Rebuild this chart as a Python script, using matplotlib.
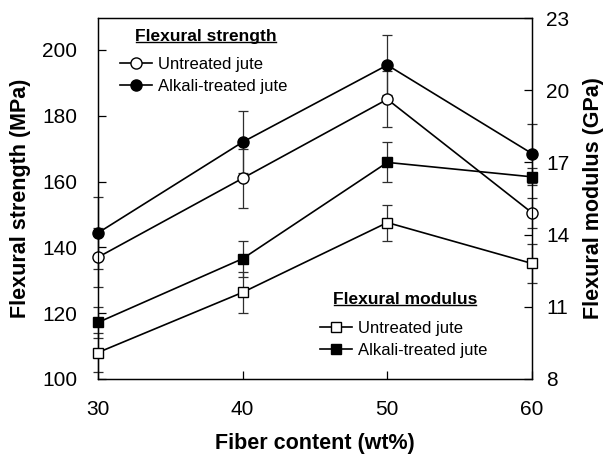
import matplotlib
matplotlib.use('Agg')
import matplotlib.pyplot as plt
from matplotlib.lines import Line2D

plt.rcParams['font.family'] = ['Liberation Sans', 'DejaVu Sans']

# ---- data ----
fiber = [30, 40, 50, 60]
strength_untreated = [137.0, 161.0, 185.0, 150.5]
strength_untreated_err = [9.0, 9.0, 8.5, 4.5]
strength_alkali = [144.4, 172.0, 195.4, 168.5]
strength_alkali_err = [11.0, 9.5, 9.0, 9.0]
modulus_untreated = [9.1, 11.6, 14.5, 12.8]
modulus_untreated_err = [0.8, 0.85, 0.75, 0.8]
modulus_alkali = [10.35, 13.0, 17.0, 16.4]
modulus_alkali_err = [0.65, 0.75, 0.83, 0.35]

x_ticks = [30, 40, 50, 60]
left_ticks = [100, 120, 140, 160, 180, 200]
right_ticks = [8, 11, 14, 17, 20, 23]
legend_labels = ['Untreated jute', 'Alkali-treated jute']

fig = plt.figure(figsize=(6.06, 4.55), dpi=100)
ax = fig.add_axes([98/606, 1-379/455, 434/606, 361/455])
ax2 = ax.twinx()

def draw(a, y, e, marker, face, ms):
    eb = a.errorbar(fiber, y, yerr=e, fmt='none', ecolor='#2e2e2e',
                    elinewidth=0.9, capsize=3.5, capthick=0.9, zorder=2)
    for art in eb.lines[1]:
        art.set_clip_on(False)
    for art in eb.lines[2]:
        art.set_clip_on(False)
    a.plot(fiber, y, '-', color='black', lw=1.2, marker=marker, mfc=face,
           mec='black', mew=1.0, ms=ms, clip_on=False, zorder=3)

draw(ax, strength_untreated, strength_untreated_err, 'o', 'white', 8)
draw(ax, strength_alkali, strength_alkali_err, 'o', 'black', 8)
draw(ax2, modulus_untreated, modulus_untreated_err, 's', 'white', 7)
draw(ax2, modulus_alkali, modulus_alkali_err, 's', 'black', 7)

ax.set_xlim(30, 60)
ax.set_ylim(100, 209.7)
ax2.set_ylim(8, 23)
ax.set_xticks(x_ticks)
ax.set_yticks(left_ticks)
ax2.set_yticks(right_ticks)

for sp in list(ax.spines.values()) + list(ax2.spines.values()):
    sp.set_linewidth(0.9)

ax.tick_params(axis='y', direction='in', length=5.5, width=0.9, labelsize=15, pad=15)
ax.tick_params(axis='x', direction='in', length=5.5, width=0.9, labelsize=15, pad=15)
ax2.tick_params(axis='y', direction='in', length=5.5, width=0.9, labelsize=15, pad=10)

lab_kw = dict(fontsize=15.5, fontweight='bold')
ax.set_xlabel('Fiber content (wt%)', **lab_kw)
ax.set_ylabel('Flexural strength (MPa)', **lab_kw)
ax2.set_ylabel('Flexural modulus (GPa)', **lab_kw)
ax.xaxis.label.set_va('center')
ax.yaxis.label.set_va('center')
ax2.yaxis.label.set_va('center')
ax.xaxis.set_label_coords(0.5, (379-443)/361)
ax.yaxis.set_label_coords((21-98)/434, 0.5)
ax2.yaxis.set_label_coords((594-98)/434, 0.5)

def handles(marker, ms):
    return [Line2D([], [], color='black', lw=1.2, marker=marker, mfc='white', mec='black', ms=ms),
            Line2D([], [], color='black', lw=1.2, marker=marker, mfc='black', mec='black', ms=ms)]

leg_kw = dict(frameon=False, fontsize=12, handlelength=1.9, handletextpad=0.4,
              labelspacing=0.4, borderpad=0, borderaxespad=0, loc='upper left')
leg1 = ax2.legend(handles('o', 8), legend_labels,
                  bbox_to_anchor=((120-98)/434, (379-57)/361), **leg_kw)
ax2.add_artist(leg1)
leg2 = ax2.legend(handles('s', 7), legend_labels,
                  bbox_to_anchor=((320-98)/434, (379-321)/361), **leg_kw)

t1 = ax2.text((206-98)/434, (379-36)/361, 'Flexural strength', transform=ax2.transAxes,
              ha='center', va='center', fontsize=12.5, fontweight='bold')
t2 = ax2.text((405-98)/434, (379-299)/361, 'Flexural modulus', transform=ax2.transAxes,
              ha='center', va='center', fontsize=12.5, fontweight='bold')

fig.canvas.draw()
inv = fig.transFigure.inverted()
for t in (t1, t2):
    bb = t.get_window_extent(fig.canvas.get_renderer())
    (x0, y0) = inv.transform((bb.x0 + 1, bb.y0 + 2.0))
    (x1, _) = inv.transform((bb.x1 - 1, bb.y0 + 2.0))
    fig.add_artist(Line2D([x0, x1], [y0, y0], color='black', lw=1.0, transform=fig.transFigure))

fig.savefig('out.png', dpi=100)
